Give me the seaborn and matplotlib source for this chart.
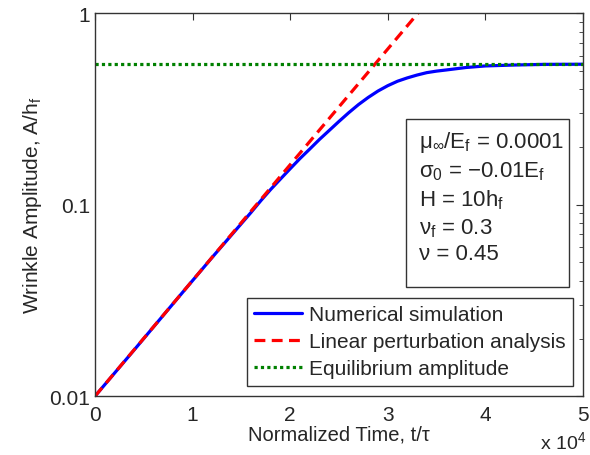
import numpy as np
import pandas as pd
import matplotlib
matplotlib.use('Agg')
import matplotlib.pyplot as plt
import matplotlib.ticker as mticker
from matplotlib.patches import Rectangle
import seaborn as sns

# data (time in units of 1e4)
t_num = [0, 0.4, 0.8, 1.2, 1.6, 1.7, 1.8, 1.9, 2.0, 2.1, 2.2, 2.3, 2.4,
         2.5, 2.6, 2.7, 2.8, 2.9, 3.0, 3.1, 3.2, 3.3, 3.4, 3.5, 3.6,
         3.8, 4.0, 4.3, 4.6, 5.0]
a_num = [0.0100, 0.0174, 0.0304, 0.0530, 0.0912, 0.105, 0.120, 0.136,
         0.154, 0.174, 0.195, 0.219, 0.244, 0.272, 0.302, 0.333, 0.363,
         0.392, 0.418, 0.441, 0.459, 0.475, 0.489, 0.498, 0.505, 0.520,
         0.530, 0.536, 0.540, 0.541]
t_lin = [0, 3.31]
a_lin = [0.01, 1.0]
t_eq = [0, 5]
a_eq = [0.541, 0.541]

labels = ['Numerical simulation', 'Linear perturbation analysis',
          'Equilibrium amplitude']
params = ['μ$_\\infty$/E$_\\mathregular{f}$ = 0.0001',
          'σ$_\\mathregular{0}$ = −0.01E$_\\mathregular{f}$',
          'H = 10h$_\\mathregular{f}$',
          'ν$_\\mathregular{f}$ = 0.3',
          'ν = 0.45']

sns.set_style('white')
plt.rcParams['font.family'] = ['Liberation Sans', 'DejaVu Sans']
plt.rcParams['mathtext.fontset'] = 'custom'
plt.rcParams['mathtext.rm'] = 'Liberation Sans'
plt.rcParams['mathtext.it'] = 'Liberation Sans:italic'

fig = plt.figure(figsize=(5.9, 4.56), dpi=100)
ax = fig.add_axes([0.161, 0.129, 0.827, 0.840])

df_num = pd.DataFrame({'t': t_num, 'a': a_num})
df_lin = pd.DataFrame({'t': t_lin, 'a': a_lin})
df_eq = pd.DataFrame({'t': t_eq, 'a': a_eq})

sns.lineplot(data=df_num, x='t', y='a', ax=ax, color='#0000ff',
             lw=2.3, label=labels[0])
sns.lineplot(data=df_lin, x='t', y='a', ax=ax, color='#ff0000',
             lw=2.3, ls=(0, (3.4, 2.0)), label=labels[1])
sns.lineplot(data=df_eq, x='t', y='a', ax=ax, color='#008000',
             lw=2.3, ls=(0, (1, 1)), label=labels[2])

ax.set_yscale('log')
ax.set_xlim(0, 5)
ax.set_ylim(0.01, 1)
ax.set_xticks([0, 1, 2, 3, 4, 5])
ax.set_yticks([0.01, 0.1, 1])
ax.yaxis.set_major_formatter(mticker.FixedFormatter(['0.01', '0.1', '1']))
ax.yaxis.set_minor_locator(mticker.LogLocator(base=10, subs=np.arange(2, 10)))
ax.yaxis.set_minor_formatter(mticker.NullFormatter())
ax.tick_params(which='both', direction='in', top=True, right=True,
               labelsize=15, color='#333333')
ax.tick_params(axis='x', pad=6.5)
ax.tick_params(which='major', length=5)
ax.tick_params(which='minor', length=3)
for s in ax.spines.values():
    s.set_color('#333333')
    s.set_linewidth(1.0)

ax.set_xlabel('Normalized Time, t/τ', fontsize=14.5, labelpad=0)
ax.set_ylabel('Wrinkle Amplitude, A/h$_\\mathregular{f}$', fontsize=15,
              labelpad=4)
fig.text(0.915, 0.015, 'x 10$^\\mathregular{4}$', fontsize=14)

# parameter box
ax.add_patch(Rectangle((0.637, 0.285), 0.334, 0.438, transform=ax.transAxes,
                       fc='white', ec='#333333', lw=1, zorder=4))
ax.text(0.664, 0.697, '\n'.join(params), transform=ax.transAxes,
        fontsize=16, va='top', ha='left', linespacing=1.3, zorder=5)

leg = ax.legend(loc='lower right', fontsize=15, frameon=True, fancybox=False,
                edgecolor='#333333', handlelength=2.3, handletextpad=0.33,
                borderpad=0.35, labelspacing=0.4, borderaxespad=0.5)
leg.get_frame().set_linewidth(1)
leg.get_frame().set_alpha(1)

fig.savefig('out.png', dpi=100)
